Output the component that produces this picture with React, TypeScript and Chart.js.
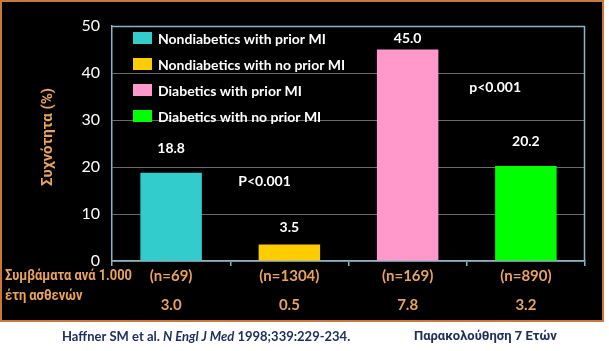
import React, { useEffect, useRef } from 'react';
import { Chart, registerables } from 'chart.js';

Chart.register(...registerables);

const categories = [
  'Nondiabetics with prior MI',
  'Nondiabetics with no prior MI',
  'Diabetics with prior MI',
  'Diabetics with no prior MI',
];
const incidence = [18.8, 3.5, 45.0, 20.2];
const sampleSizes = ['(n=69)', '(n=1304)', '(n=169)', '(n=890)'];
const eventRates = ['3.0', '0.5', '7.8', '3.2'];
const yTickValues = [0, 10, 20, 30, 40, 50];
const pLabels = ['P<0.001', 'p<0.001'];
const pLabelX = [0.79, 2.74];
const pLabelY = [16.9, 37.0];
const rowHeader = ['Συμβάματα ανά 1.000', 'έτη ασθενών'];
const yTitle = 'Συχνότητα (%)';
const citationParts = ['Haffner SM et al. ', 'N Engl J Med', ' 1998;339:229-234.'];
const followUp = 'Παρακολούθηση 7 Ετών';

const barColors = ['#33CCCC', '#FFCC00', '#FF99CC', '#00FF00'];
const valueLabelOffsets = [24, 17, 11, 25];
const FONT = "Lato, 'Open Sans', 'Noto Sans', sans-serif";
const GREEK = "Roboto, 'Noto Sans', sans-serif";
const ORANGE = '#EBA35A';
const FRAME = '#8AB4C8';
const NAVY = '#1F2F62';

const decorPlugin = {
  id: 'decor',
  beforeDraw(chart: any) {
    const ctx = chart.ctx;
    ctx.save();
    ctx.fillStyle = '#FFFFFF';
    ctx.fillRect(0, 0, chart.width, chart.height);
    ctx.fillStyle = '#000000';
    ctx.fillRect(0, 0, 604, 322);
    ctx.strokeStyle = '#C9783A';
    ctx.lineWidth = 2;
    ctx.strokeRect(1, 1, 602, 320);
    ctx.restore();
  },
  afterDraw(chart: any) {
    const ctx = chart.ctx;
    const area = chart.chartArea;
    const xs = chart.scales.x;
    const ys = chart.scales.y;
    ctx.save();
    // frame top & right
    ctx.strokeStyle = FRAME;
    ctx.lineWidth = 1.5;
    ctx.beginPath();
    ctx.moveTo(area.left, area.top + 0.5);
    ctx.lineTo(area.right - 0.5, area.top + 0.5);
    ctx.lineTo(area.right - 0.5, area.bottom);
    ctx.stroke();

    // legend
    ctx.font = `bold 14px ${FONT}`;
    ctx.textBaseline = 'middle';
    ctx.textAlign = 'left';
    categories.forEach((c, i) => {
      const cy = 38 + i * 26;
      ctx.fillStyle = barColors[i];
      ctx.fillRect(133, cy - 6, 19, 12);
      ctx.fillStyle = '#FFFFFF';
      ctx.fillText(c, 158, cy + 1);
    });

    // value labels
    ctx.font = `bold 14px ${FONT}`;
    ctx.textAlign = 'center';
    const meta = chart.getDatasetMeta(0);
    meta.data.forEach((bar: any, i: number) => {
      ctx.fillStyle = '#FFFFFF';
      ctx.fillText(incidence[i].toFixed(1), bar.x, bar.y - valueLabelOffsets[i]);
    });

    // p values
    pLabels.forEach((t, i) => {
      ctx.fillText(t, xs.getPixelForValue(pLabelX[i]), ys.getPixelForValue(pLabelY[i]));
    });

    // row header (condensed to match the narrow original face)
    ctx.font = `bold 15px ${GREEK}`;
    ctx.fillStyle = ORANGE;
    ctx.textAlign = 'left';
    const w0 = ctx.measureText(rowHeader[0]).width;
    const sx = Math.min(1, 127 / w0);
    ctx.save();
    ctx.translate(5, 0);
    ctx.scale(sx, 1);
    ctx.fillText(rowHeader[0], 0, 276);
    ctx.fillText(rowHeader[1], 0, 296);
    ctx.restore();

    // y title
    ctx.save();
    ctx.font = `bold 15px ${GREEK}`;
    ctx.translate(48, 137);
    ctx.rotate(-Math.PI / 2);
    ctx.textAlign = 'center';
    ctx.fillText(yTitle, 0, 0, 98);
    ctx.restore();

    // citation
    ctx.fillStyle = NAVY;
    ctx.textAlign = 'left';
    let x = 62;
    const cy = 337;
    ctx.font = `bold 13px ${FONT}`;
    ctx.fillText(citationParts[0], x, cy);
    x += ctx.measureText(citationParts[0]).width;
    ctx.font = `italic bold 13px ${FONT}`;
    ctx.fillText(citationParts[1], x, cy);
    x += ctx.measureText(citationParts[1]).width;
    ctx.font = `bold 13px ${FONT}`;
    ctx.fillText(citationParts[2], x, cy);
    ctx.font = `bold 13px ${GREEK}`;
    ctx.fillText(followUp, 414, cy, 146);
    ctx.restore();
  },
};

export default function App() {
  const ref = useRef<HTMLCanvasElement>(null);
  useEffect(() => {
    document.body.style.margin = '0';
    const chart = new Chart(ref.current as HTMLCanvasElement, {
      type: 'bar',
      data: {
        labels: sampleSizes.map((s, i) => [s, eventRates[i]]),
        datasets: [
          {
            data: incidence,
            backgroundColor: barColors,
            borderWidth: 0,
            barPercentage: 0.52,
            categoryPercentage: 1,
          },
        ],
      },
      options: {
        responsive: false,
        animation: false,
        layout: { padding: { top: 26, right: 24, bottom: 30, left: 0 } },
        plugins: { legend: { display: false }, tooltip: { enabled: false } },
        scales: {
          x: {
            afterFit(scale: any) {
              scale.height = 60;
            },
            grid: {
              display: true,
              drawOnChartArea: false,
              drawTicks: true,
              tickLength: 5,
              color: FRAME,
              lineWidth: 1.5,
            },
            border: { display: true, color: FRAME, width: 1.5 },
            ticks: {
              color: ORANGE,
              padding: -4.5,
              font: { family: FONT, size: 15, weight: 'bold', lineHeight: '29px' },
              maxRotation: 0,
            },
          },
          y: {
            min: 0,
            max: 50,
            afterFit(scale: any) {
              scale.width = 112;
            },
            afterBuildTicks(scale: any) {
              scale.ticks = yTickValues.map((v) => ({ value: v }));
            },
            grid: {
              color: (c: any) => (c.tick && c.tick.value === 50 ? 'rgba(0,0,0,0)' : '#6A6A6A'),
              drawTicks: false,
              lineWidth: 1,
            },
            border: { display: true, color: FRAME, width: 1.5 },
            ticks: {
              color: '#FFFFFF',
              padding: 12,
              font: { family: FONT, size: 16 },
            },
          },
        },
      },
      plugins: [decorPlugin],
    } as any);
    return () => chart.destroy();
  }, []);
  return <canvas ref={ref} width={609} height={351} style={{ display: 'block' }} />;
}
